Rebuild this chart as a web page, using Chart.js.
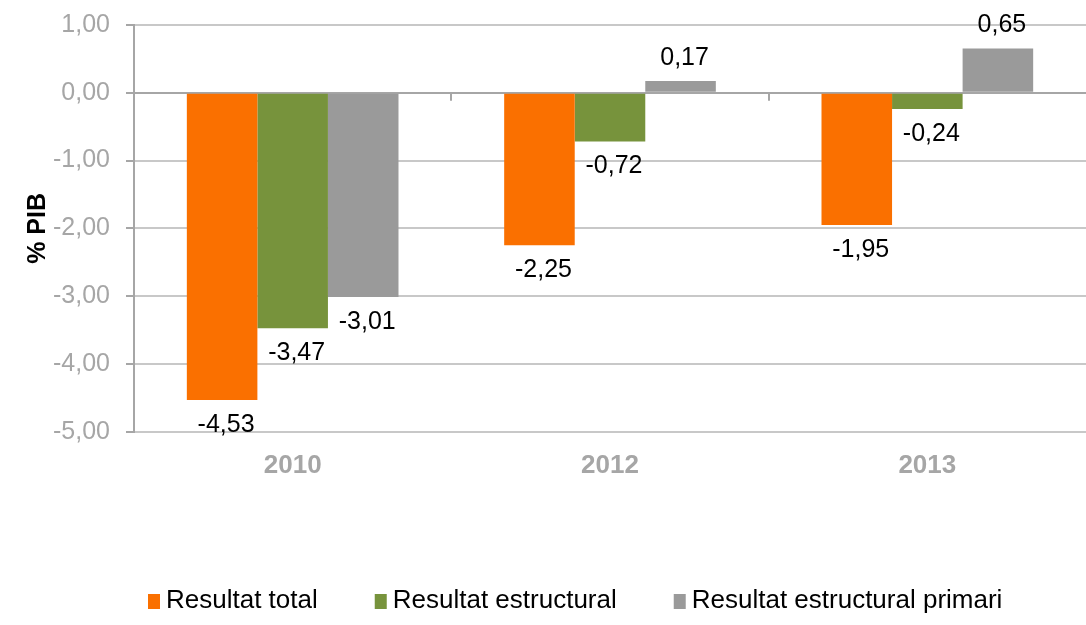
<!DOCTYPE html>
<html>
<head>
<meta charset="utf-8">
<script src="https://cdn.jsdelivr.net/npm/chart.js@4"></script>
<style>
  html, body { margin: 0; padding: 0; background: #fff; }
  #wrap { width: 1086px; height: 625px; }
</style>
</head>
<body>
<div id="wrap"><canvas id="barChart"></canvas></div>
<script>
const years = ['2010', '2012', '2013'];
const resultatTotal = [-4.53, -2.25, -1.95];
const resultatEstructural = [-3.47, -0.72, -0.24];
const resultatPrimari = [-3.01, 0.17, 0.65];
const seriesNames = ['Resultat total', 'Resultat estructural', 'Resultat estructural primari'];
const colors = ['#fa7000', '#77933c', '#9a9a9a'];

const FONT = "'Liberation Sans', Arial, sans-serif";
const fmt = v => v.toFixed(2).replace('.', ',');

// etiquetes de valor i marques a la línia del zero
const labelsPlugin = {
  id: 'valueLabels',
  afterDatasetsDraw(chart) {
    const ctx = chart.ctx;
    const x = chart.scales.x, y = chart.scales.y;
    ctx.save();
    // marques a l'eix zero
    ctx.strokeStyle = '#a6a6a6';
    ctx.lineWidth = 2;
    const y0 = y.getPixelForValue(0);
    for (let i = 0; i < years.length - 1; i++) {
      const bx = Math.round((x.getPixelForValue(i) + x.getPixelForValue(i + 1)) / 2);
      ctx.beginPath();
      ctx.moveTo(bx, y0);
      ctx.lineTo(bx, y0 + 8);
      ctx.stroke();
    }
    ctx.font = '25px ' + FONT;
    ctx.fillStyle = '#000';
    ctx.textAlign = 'center';
    ctx.textBaseline = 'middle';
    chart.data.datasets.forEach((ds, di) => {
      chart.getDatasetMeta(di).data.forEach((bar, i) => {
        const v = ds.data[i];
        const ty = v < 0 ? bar.y + 25 : bar.y - 23;
        ctx.fillText(fmt(v), bar.x + 4, ty);
      });
    });
    ctx.restore();
  }
};

// llegenda a sota
const legendPlugin = {
  id: 'bottomLegend',
  afterDraw(chart) {
    const ctx = chart.ctx;
    ctx.save();
    ctx.font = '26px ' + FONT;
    ctx.textBaseline = 'middle';
    let lx = 148;
    const ly = 601;
    seriesNames.forEach((name, i) => {
      ctx.fillStyle = colors[i];
      ctx.fillRect(lx, ly - 7, 12, 15);
      ctx.fillStyle = '#000';
      ctx.textAlign = 'left';
      ctx.fillText(name, lx + 18, ly);
      lx += 18 + ctx.measureText(name).width + 57;
    });
    ctx.restore();
  }
};

const ctx = document.getElementById('barChart').getContext('2d');
new Chart(ctx, {
  type: 'bar',
  data: {
    labels: years,
    datasets: seriesNames.map((name, i) => ({
      label: name,
      data: [resultatTotal, resultatEstructural, resultatPrimari][i],
      backgroundColor: colors[i],
      categoryPercentage: 0.667,
      barPercentage: 1.0
    }))
  },
  options: {
    responsive: true,
    maintainAspectRatio: false,
    animation: false,
    layout: { padding: { top: 16, right: 0, bottom: 0, left: 0 } },
    plugins: {
      legend: { display: false },
      tooltip: { enabled: false }
    },
    scales: {
      x: {
        grid: { display: false },
        border: { display: false },
        ticks: {
          color: '#a6a6a6',
          font: { family: FONT, size: 26, weight: 'bold' },
          padding: 10
        },
        afterFit(scale) { scale.height = 193; }
      },
      y: {
        min: -5,
        max: 1,
        ticks: {
          stepSize: 1,
          color: '#a6a6a6',
          font: { family: FONT, size: 25, lineHeight: 0.7 },
          padding: 16,
          callback: v => fmt(v)
        },
        grid: {
          color: c => c.tick && c.tick.value === 0 ? '#a6a6a6' : '#c8c8c8',
          tickColor: '#a6a6a6',
          lineWidth: 2,
          tickLength: 8
        },
        border: { color: '#a6a6a6', width: 2 },
        title: {
          display: true,
          text: '% PIB',
          color: '#000',
          font: { family: FONT, size: 25, weight: 'bold' },
          padding: { top: 23, bottom: 0 }
        },
        afterFit(scale) { scale.width = 134; }
      }
    }
  },
  plugins: [labelsPlugin, legendPlugin]
});
</script>
</body>
</html>
